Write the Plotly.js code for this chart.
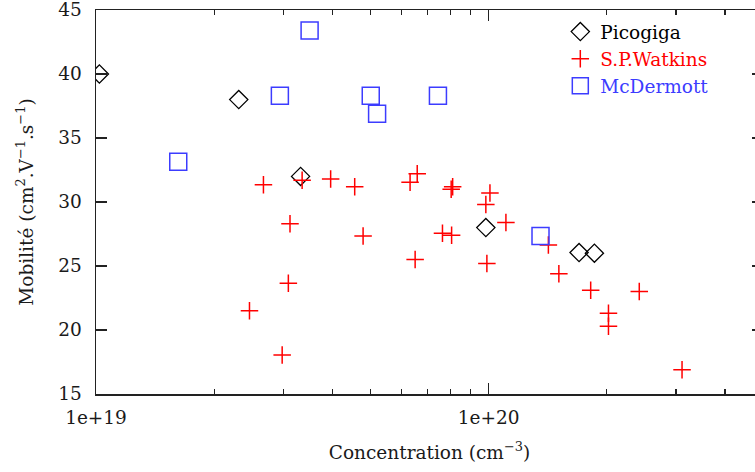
<!DOCTYPE html>
<html>
<head>
<meta charset="utf-8">
<script src="https://cdn.plot.ly/plotly-3.0.1.min.js"></script>
<style>
html,body{margin:0;padding:0;overflow:hidden;background:#fff;}
#chart{width:800px;height:472px;}
</style>
</head>
<body>
<div id="chart"></div>
<script>
// Picogiga
const picoX = [1.02e19, 2.31e19, 3.32e19, 9.84e19, 1.70e20, 1.86e20];
const picoY = [40.0, 38.0, 32.0, 28.0, 26.05, 26.0];
// S.P.Watkins
const watX = [2.46e19, 2.67e19, 2.98e19, 3.09e19, 3.12e19, 3.35e19, 3.96e19, 4.56e19, 4.79e19,
              6.31e19, 6.50e19, 6.58e19, 7.63e19, 8.03e19, 8.05e19, 8.10e19, 9.84e19, 9.90e19,
              1.008e20, 1.107e20, 1.42e20, 1.51e20, 1.82e20, 2.02e20, 2.02e20, 2.42e20, 3.11e20];
const watY = [21.5, 31.35, 18.05, 23.65, 28.3, 31.7, 31.8, 31.2, 27.35,
              31.55, 25.5, 32.2, 27.55, 31.0, 27.4, 31.2, 29.8, 25.2,
              30.7, 28.4, 26.65, 24.4, 23.1, 21.3, 20.3, 23.0, 16.9];
// McDermott
const mcdX = [1.62e19, 2.94e19, 3.50e19, 5.01e19, 5.20e19, 7.43e19, 1.356e20];
const mcdY = [33.15, 38.3, 43.4, 38.3, 36.9, 38.3, 27.35];

const seriesNames = ["Picogiga", "S.P.Watkins", "McDermott"];
const seriesColors = ["#000000", "#ff0000", "#3c3cff"];

const xMajorVals = [1e19, 1e20];
const xMajorText = ["1e+19", "1e+20"];
const xMinorVals = [2e19, 3e19, 4e19, 5e19, 6e19, 7e19, 8e19, 9e19, 2e20, 3e20, 4e20, 5e20];
const yTickVals = [15, 20, 25, 30, 35, 40, 45];

const FONT = "DejaVu Serif, Liberation Serif, serif";
const FS = 18.5;
const AX = "#222222";

const coloredName = (i) => "<span style='color:" + seriesColors[i] + "'>" + seriesNames[i] + "</span>";

const traces = [
  {x: picoX, y: picoY, name: coloredName(0), type: "scatter", mode: "markers",
   marker: {symbol: "diamond-open", size: 14, color: seriesColors[0], line: {color: seriesColors[0], width: 1.3}}},
  {x: watX, y: watY, name: coloredName(1), type: "scatter", mode: "markers",
   marker: {symbol: "cross-thin", size: 12.5, color: seriesColors[1], line: {color: seriesColors[1], width: 1.5}}},
  {x: mcdX, y: mcdY, name: coloredName(2), type: "scatter", mode: "markers",
   marker: {symbol: "square-open", size: 17, color: seriesColors[2], line: {color: seriesColors[2], width: 1.5}}}
];

const layout = {
  width: 800, height: 472,
  margin: {l: 96, r: 37, t: 10, b: 78},
  font: {family: FONT, size: FS, color: "#1a1a1a"},
  showlegend: true,
  legend: {
    x: 0.927, xanchor: "right", y: 0.992, yanchor: "top",
    bgcolor: "rgba(0,0,0,0)", borderwidth: 0, tracegroupgap: 0,
    font: {family: FONT, size: FS, color: "#1a1a1a"}
  },
  xaxis: {
    type: "log", range: [19, Math.log10(5e20)],
    tickmode: "array", tickvals: xMajorVals, ticktext: xMajorText,
    ticks: "inside", ticklen: 11, tickwidth: 1.2, tickcolor: AX,
    minor: {tickmode: "array", tickvals: xMinorVals, ticks: "inside", ticklen: 5, tickwidth: 1.2, tickcolor: AX, showgrid: false},
    showline: true, linecolor: AX, linewidth: 1.5, mirror: "ticks",
    showgrid: false, zeroline: false, ticklabelstandoff: 6, ticklabeloverflow: "allow",
    tickfont: {family: FONT, size: FS},
    title: {text: "Concentration (cm<sup>−3</sup>)", font: {family: FONT, size: FS}, standoff: 19}
  },
  yaxis: {
    range: [15, 45], tickmode: "array", tickvals: yTickVals,
    ticks: "inside", ticklen: 11, tickwidth: 1.2, tickcolor: AX,
    showline: true, linecolor: AX, linewidth: 1.5, mirror: "ticks",
    showgrid: false, zeroline: false, ticklabelstandoff: 9, ticklabeloverflow: "allow",
    tickfont: {family: FONT, size: FS},
    title: {text: "Mobilité (cm<sup>2</sup>.V<sup>−1</sup>.s<sup>−1</sup>)", font: {family: FONT, size: FS}, standoff: 20}
  }
};

Plotly.newPlot("chart", traces, layout, {displayModeBar: false, staticPlot: true});
</script>
</body>
</html>
